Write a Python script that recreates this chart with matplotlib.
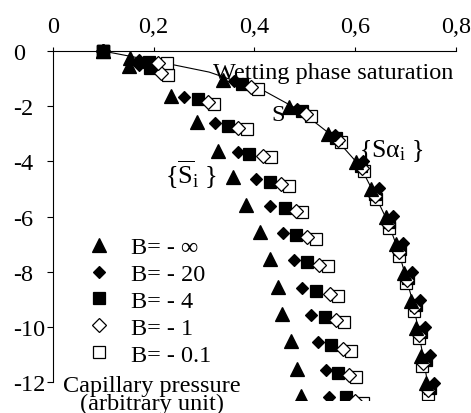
import matplotlib
matplotlib.use('Agg')
import matplotlib.pyplot as plt
from matplotlib.lines import Line2D

plt.rcParams['font.family'] = ['Liberation Serif', 'DejaVu Serif']
plt.rcParams['mathtext.fontset'] = 'custom'
plt.rcParams['mathtext.rm'] = 'Liberation Serif'
plt.rcParams['mathtext.it'] = 'Liberation Serif:italic'

# axis ticks
x_ticks = [0, 0.2, 0.4, 0.6, 0.8]
x_labels = ['0', '0,2', '0,4', '0,6', '0,8']
y_ticks = [0, -2, -4, -6, -8, -10, -12]
y_labels = ['0', '-2', '-4', '-6', '-8', '-10', '-12']

labels = ['B= - \u221e', 'B= - 20', 'B= - 4', 'B= - 1', 'B= - 0.1']

# {S_i} family (mean saturation)
tri_l_x = [0.100, 0.150, 0.235, 0.285, 0.327, 0.357, 0.384, 0.410, 0.430, 0.446, 0.455, 0.473, 0.485, 0.493]
tri_l_y = [0.0, -0.55, -1.63, -2.57, -3.62, -4.57, -5.58, -6.56, -7.54, -8.55, -9.53, -10.50, -11.53, -12.50]
dia_l_x = [0.100, 0.170, 0.261, 0.321, 0.367, 0.404, 0.430, 0.456, 0.479, 0.495, 0.513, 0.527, 0.541, 0.548]
dia_l_y = [0.0, -0.50, -1.65, -2.62, -3.66, -4.62, -5.62, -6.60, -7.58, -8.60, -9.58, -10.55, -11.55, -12.55]
sq_l_x = [0.100, 0.192, 0.287, 0.347, 0.390, 0.430, 0.460, 0.483, 0.505, 0.523, 0.539, 0.552, 0.565, 0.582]
sq_l_y = [0.0, -0.60, -1.75, -2.70, -3.73, -4.73, -5.70, -6.68, -7.66, -8.70, -9.63, -10.65, -11.66, -12.55]
od_l_x = [0.100, 0.215, 0.307, 0.367, 0.416, 0.453, 0.483, 0.505, 0.529, 0.549, 0.562, 0.575, 0.588, 0.600]
od_l_y = [0.0, -0.78, -1.85, -2.78, -3.80, -4.80, -5.78, -6.74, -7.74, -8.80, -9.76, -10.80, -11.76, -12.70]
os_l_x = [0.100, 0.228, 0.320, 0.386, 0.433, 0.469, 0.495, 0.523, 0.545, 0.565, 0.578, 0.592, 0.602, 0.615]
os_l_y = [0.0, -0.85, -1.90, -2.83, -3.85, -4.90, -5.83, -6.80, -7.80, -8.88, -9.83, -10.87, -11.80, -12.75]

# {S alpha_i} family (along S)
tri_r_x = [0.100, 0.152, 0.337, 0.469, 0.545, 0.602, 0.632, 0.661, 0.681, 0.697, 0.711, 0.721, 0.731, 0.741]
tri_r_y = [0.0, -0.25, -1.05, -2.03, -3.00, -4.02, -5.00, -6.00, -7.00, -8.05, -9.05, -10.05, -11.05, -12.05]
dia_r_x = [0.100, 0.170, 0.360, 0.485, 0.560, 0.615, 0.648, 0.675, 0.695, 0.712, 0.728, 0.738, 0.748, 0.756]
dia_r_y = [0.0, -0.33, -1.08, -2.10, -3.05, -4.00, -4.98, -5.97, -6.97, -8.02, -9.02, -10.02, -11.02, -12.02]
sq_r_x = [0.100, 0.190, 0.376, 0.495, 0.562, 0.612, 0.640, 0.668, 0.688, 0.704, 0.720, 0.730, 0.740, 0.748]
sq_r_y = [0.0, -0.38, -1.18, -2.17, -3.15, -4.18, -5.17, -6.18, -7.18, -8.22, -9.20, -10.20, -11.20, -12.20]
od_r_x = [0.100, 0.208, 0.394, 0.503, 0.566, 0.613, 0.640, 0.666, 0.686, 0.702, 0.717, 0.726, 0.735, 0.744]
od_r_y = [0.0, -0.42, -1.30, -2.28, -3.22, -4.25, -5.25, -6.27, -7.28, -8.30, -9.28, -10.30, -11.30, -12.30]
os_r_x = [0.100, 0.226, 0.406, 0.513, 0.572, 0.618, 0.642, 0.667, 0.687, 0.701, 0.717, 0.727, 0.733, 0.744]
os_r_y = [0.0, -0.43, -1.38, -2.36, -3.30, -4.35, -5.37, -6.42, -7.42, -8.42, -9.42, -10.42, -11.42, -12.42]

# curve S
s_x = [0.100, 0.200, 0.310, 0.420, 0.490, 0.560, 0.610, 0.638, 0.665, 0.685, 0.701, 0.716, 0.726, 0.736, 0.745, 0.752]
s_y = [0.0, -0.35, -0.76, -1.45, -2.15, -3.15, -4.18, -5.18, -6.20, -7.20, -8.22, -9.20, -10.20, -11.20, -12.20, -13.00]

left = [(tri_l_x, tri_l_y), (dia_l_x, dia_l_y), (sq_l_x, sq_l_y), (od_l_x, od_l_y), (os_l_x, os_l_y)]
right = [(tri_r_x, tri_r_y), (dia_r_x, dia_r_y), (sq_r_x, sq_r_y), (od_r_x, od_r_y), (os_r_x, os_r_y)]

# marker, face, size, zorder
styles = [('^', 'k', 10, 7), ('D', 'k', 6.2, 6), ('s', 'k', 8.5, 4), ('D', 'w', 7.6, 5), ('s', 'w', 9.0, 3)]

FS = 17.5

fig = plt.figure(figsize=(4.71, 4.14), dpi=100)
ax = fig.add_axes([0.1125, 0.0314, 0.8556, 0.866])
ax.set_xlim(0, 0.8)
ax.set_ylim(-12.65, 0.35)

ax.plot(s_x, s_y, color='k', lw=0.8, zorder=2)

for fam in (left, right):
    for (xs, ys), (m, fc, ms, z) in zip(fam, styles):
        ax.plot(xs, ys, ls='none', marker=m, mfc=fc, mec='k', ms=ms, mew=0.9, zorder=z)

for s in ['right', 'bottom']:
    ax.spines[s].set_visible(False)
ax.spines['top'].set_position(('data', 0))
ax.spines['top'].set_bounds(0, 0.8)
ax.spines['left'].set_bounds(-12, 0)
for s in ['top', 'left']:
    ax.spines[s].set_linewidth(0.8)

ax.xaxis.set_ticks_position('top')
ax.set_xticks(x_ticks)
ax.set_xticklabels(x_labels)
ax.set_yticks(y_ticks)
ax.set_yticklabels(y_labels)
ax.tick_params(axis='x', direction='out', length=3, width=0.8, pad=7, labelsize=FS)
ax.tick_params(axis='y', direction='out', length=4, width=0.8, pad=25, labelsize=FS)
for lab in ax.get_yticklabels():
    lab.set_horizontalalignment('left')

ax.text(0.795, -0.78, 'Wetting phase saturation', ha='right', va='center', fontsize=FS)
ax.text(0.447, -2.3, 'S', ha='center', va='center', fontsize=FS)
ax.text(0.671, -3.6, r'$\{\mathrm{S\alpha}_{\mathrm{i}}\ \}$', ha='center', va='center', fontsize=18.5)
ax.text(0.274, -4.45, r'$\{\overline{\mathrm{S}}_{\mathrm{i}}\ \}$', ha='center', va='center', fontsize=19)
ax.text(0.196, -11.75, 'Capillary pressure\n(arbitrary unit)', ha='center', va='top',
        fontsize=FS, linespacing=0.78, clip_on=False)

handles = [Line2D([], [], ls='none', marker=m, mfc=fc, mec='k', ms=ms, mew=0.9)
           for (m, fc, ms, z) in styles]
ax.legend(handles, labels, loc='upper left', bbox_to_anchor=(0.085, 0.457), frameon=False,
          fontsize=FS, handlelength=1.0, handletextpad=0.8, labelspacing=0.2,
          borderpad=0, borderaxespad=0)

fig.savefig('out.png', dpi=100)
